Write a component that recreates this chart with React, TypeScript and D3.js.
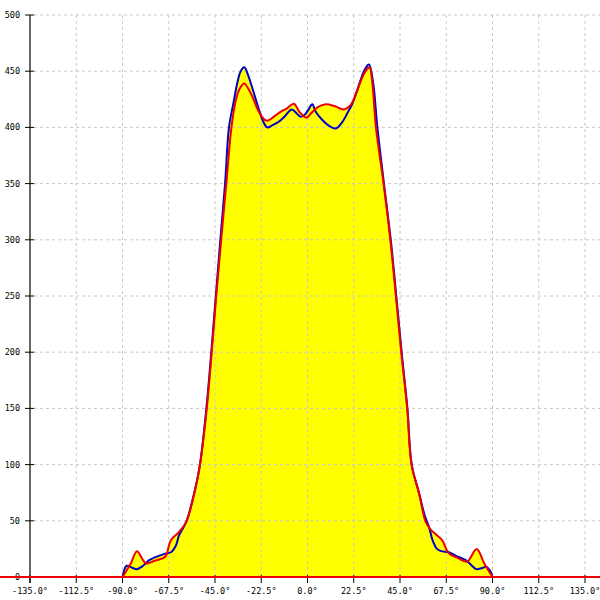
import React from "react";
import * as d3 from "d3";

const xTicks = [-135, -112.5, -90, -67.5, -45, -22.5, 0, 22.5, 45, 67.5, 90, 112.5, 135];
const yTicks = [0, 50, 100, 150, 200, 250, 300, 350, 400, 450, 500];
const baselineAngles = [-150, 150];

const blueAngles = [-90, -88, -85, -83, -80, -77, -72, -68.8, -66.4, -64, -62.5, -59, -55.2, -52.4, -49.2, -46.8, -44.6, -42.4, -40.1, -38.2, -36, -34.1, -32.5, -30.7, -29, -27, -24, -21.5, -19.6, -17, -14, -11, -7.7, -5, -3.3, -1, 0.5, 2.3, 4, 7, 10, 13.7, 17, 19.5, 21.8, 24, 26, 28, 29.9, 31.9, 34, 37.2, 40.5, 43.2, 45.8, 48.6, 50.7, 54.2, 57, 59, 61, 63, 65, 68.8, 72, 77, 80, 82, 85, 87, 89, 90];
const blueValues = [0, 10, 8, 7, 10, 15, 19, 21, 22, 28, 37, 49, 74, 99, 150, 200, 250, 300, 350, 400, 422, 440, 450, 453.5, 447, 436, 418, 405, 400, 402, 405, 410, 416, 412, 409.5, 412, 416, 420.5, 414, 407, 402, 399, 405, 413, 421, 432, 443, 452, 456, 440, 400, 350, 300, 250, 200, 150, 100, 75, 55, 45, 32, 25, 23, 22, 19, 15, 10, 7, 8, 9, 5, 0];

const redAngles = [-90, -86, -83, -80, -78.5, -75, -70, -68.8, -66.4, -62.5, -59, -55, -52.3, -49, -46.6, -44.4, -42, -39.5, -37, -34.9, -32.8, -30.7, -29, -27, -24, -21.5, -19.6, -16, -13, -10, -6.6, -4, -0.6, 2, 5, 8.9, 13, 17.8, 21, 24, 27, 29, 30.2, 31.5, 33.3, 37, 40.3, 43, 45.6, 48.5, 50.6, 54.2, 57.5, 60, 62.4, 65.4, 68.8, 73, 77.6, 82.3, 86, 90];
const redValues = [0, 12, 23, 15, 12, 14, 17, 19, 33, 40, 49, 75, 100, 150, 200, 250, 300, 350, 400, 424, 435, 439, 435, 428, 415, 408, 406, 410, 414, 417, 421, 414, 408.6, 413, 418, 420.5, 419, 416, 420, 432, 446, 452, 453.5, 440, 400, 350, 300, 250, 200, 150, 100, 75, 49, 42, 38, 33, 21, 17, 13.6, 25, 12, 0];

const W = 600, H = 600;

export default function App() {
  const x = d3.scaleLinear().domain([-135, 135]).range([30, 585]);
  const y = d3.scaleLinear().domain([0, 500]).range([577, 15]);
  const blue = blueAngles.map((a, i) => [a, blueValues[i]] as [number, number]);
  const red = redAngles.map((a, i) => [a, redValues[i]] as [number, number]);
  const curve = d3.curveCatmullRom.alpha(0.5);
  const line = d3.line<[number, number]>().x(d => x(d[0])).y(d => y(d[1])).curve(curve);
  const area = d3.area<[number, number]>().x(d => x(d[0])).y0(y(0)).y1(d => y(d[1])).curve(curve);
  const font = "'DejaVu Sans Mono', monospace";
  return (
    <svg width={W} height={H} style={{ position: "absolute", left: 0, top: 0, background: "#fff" }}>
      <defs>
        <clipPath id="plotclip"><rect x={0} y={0} width={600} height={577} /></clipPath>
      </defs>
      <g clipPath="url(#plotclip)">
        <path d={area(blue) || ""} fill="#ffff00" />
        <path d={area(red) || ""} fill="#ffff00" />
      </g>
      {xTicks.slice(1).map(t => (
        <line key={"gx" + t} x1={x(t)} x2={x(t)} y1={15} y2={577} stroke="#c8c8c8" strokeDasharray="3,3" />
      ))}
      {yTicks.slice(1).map(t => (
        <line key={"gy" + t} x1={34} x2={600} y1={y(t)} y2={y(t)} stroke="#c8c8c8" strokeDasharray="3,3" />
      ))}
      <line x1={30} x2={30} y1={15} y2={583} stroke="#000" strokeWidth={1.2} />
      <line x1={30} x2={600} y1={577} y2={577} stroke="#000" />
      {yTicks.map(t => (
        <g key={"ty" + t}>
          <line x1={25} x2={34} y1={y(t)} y2={y(t)} stroke="#000" />
          <text x={20} y={y(t) + 3} fontSize={8.5} fontFamily={font} textAnchor="end" fill="#000">{t}</text>
        </g>
      ))}
      {xTicks.map(t => (
        <g key={"tx" + t}>
          <line x1={x(t)} x2={x(t)} y1={575} y2={583} stroke="#000" />
          <text x={x(t)} y={594} fontSize={8.5} fontFamily={font} textAnchor="middle" fill="#000">{t.toFixed(1) + "°"}</text>
        </g>
      ))}
      <path d={line(blue) || ""} fill="none" stroke="#0000cc" strokeWidth={2} />
      <line x1={x(baselineAngles[0])} x2={x(baselineAngles[1])} y1={y(0)} y2={y(0)} stroke="#ee0000" strokeWidth={2} />
      <path d={line(red) || ""} fill="none" stroke="#ee0000" strokeWidth={2} />
    </svg>
  );
}
